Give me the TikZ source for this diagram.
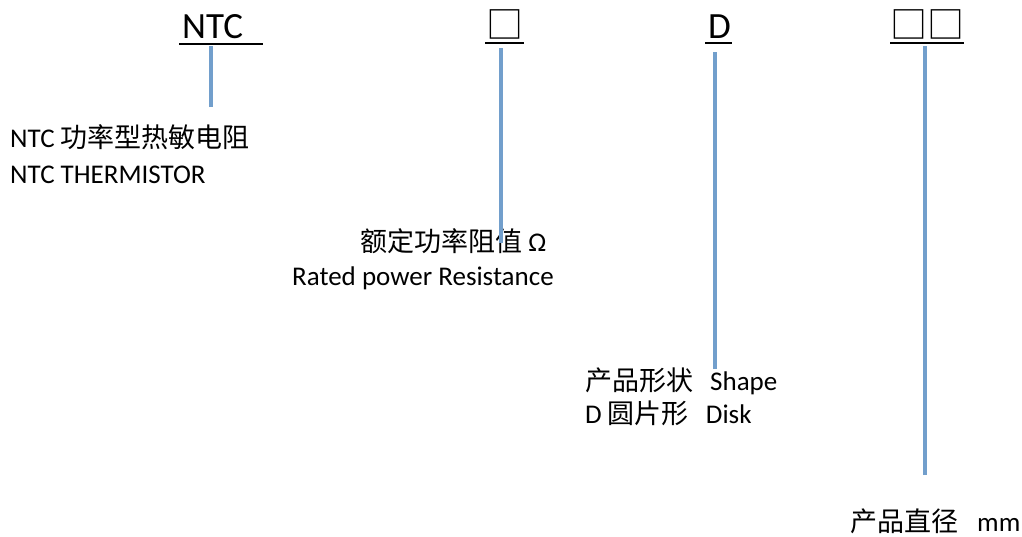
\documentclass[tikz,border=0pt]{standalone}
\usepackage{fontspec}
\setmainfont{Carlito}
\newfontfamily\cjk{Noto Sans CJK SC}
\usepackage{tikz}
\usetikzlibrary{positioning}

\definecolor{leadblue}{RGB}{114,159,204}

\begin{document}
\begin{tikzpicture}[x=1pt, y=1pt, inner sep=0pt]
	\tikzstyle{partno}=[anchor=base west, font=\fontsize{37}{44}\selectfont]
	\tikzstyle{note}=[anchor=base west, font=\fontsize{27}{33}\selectfont]
	\tikzstyle{uline}=[line width=2.5pt]
	\tikzstyle{lead}=[draw=leadblue, line width=4pt]

	\useasboundingbox (0,0) rectangle (1022,-536);

	% part number code
	\node[partno] (ntc) at (182,-38) {NTC};
	\node[partno] (res) at (486,-38) {\cjk □};
	\node[partno] (shp) at (708,-38) {D};
	\node[partno] (dia) at (890,-38) {\cjk □□};

	\draw[uline] ([shift={(-3pt,-6pt)}]ntc.base west) -- ([shift={(20pt,-6pt)}]ntc.base east);
	\draw[uline] ([shift={(-1pt,-5pt)}]res.base west) -- ([shift={(1pt,-5pt)}]res.base east);
	\draw[uline] ([shift={(-3pt,-5pt)}]shp.base west) -- ([shift={(1pt,-5pt)}]shp.base east);
	\draw[uline] ([shift={(0pt,-5pt)}]dia.base west) -- ([shift={(0pt,-5pt)}]dia.base east);

	% descriptions
	\node[note] (ntccn) at (10,-147) {NTC {\cjk 功率型热敏电阻}};
	\node[note] (ntcen) at ([yshift=-36pt]ntccn.base west) {NTC THERMISTOR};
	\node[note] (rescn) at (360,-251) {{\cjk 额定功率阻值} Ω};
	\node[note] (resen) at (292,-285) {Rated power Resistance};
	\node[note] (shpcn) at (585,-390) {{\cjk 产品形状}\hspace{17pt}Shape};
	\node[note] (shpen) at ([yshift=-33pt]shpcn.base west) {D {\cjk 圆片形}\hspace{17pt}Disk};
	\node[note] (diacn) at (850,-531) {{\cjk 产品直径}\hspace{19pt}mm};

	% leader lines
	\coordinate (e1) at (211,-107);
	\coordinate (e2) at (501,-243);
	\coordinate (e3) at (715,-369);
	\coordinate (e4) at (925,-475);
	\draw[lead, shorten >=8pt] (e1) -- (e1 |- ntc.base);
	\draw[lead, shorten >=10pt] (e2) -- (e2 |- res.base);
	\draw[lead, shorten >=14pt] (e3) -- (e3 |- shp.base);
	\draw[lead, shorten >=8pt] (e4) -- (e4 |- dia.base);
\end{tikzpicture}
\end{document}
